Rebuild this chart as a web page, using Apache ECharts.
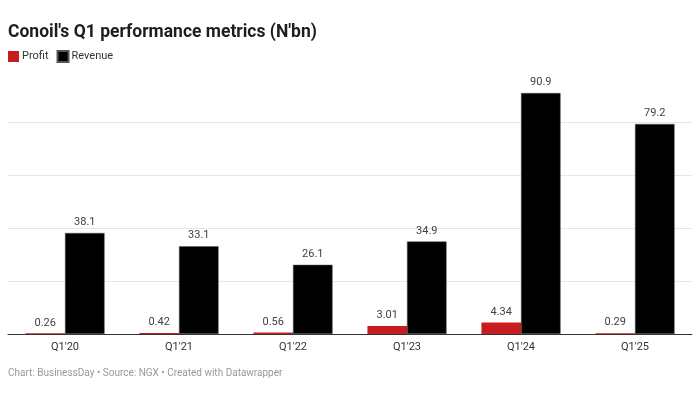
<!DOCTYPE html>
<html><head><meta charset="utf-8">
<script src="https://cdn.jsdelivr.net/npm/echarts@6/dist/echarts.min.js"></script>
<style>html,body{margin:0;padding:0;background:#fff}#c{width:700px;height:400px}</style>
</head><body><div id="c"></div>
<script>
const categories = ["Q1'20","Q1'21","Q1'22","Q1'23","Q1'24","Q1'25"];
const profit = [0.26, 0.42, 0.56, 3.01, 4.34, 0.29];
const revenue = [38.1, 33.1, 26.1, 34.9, 90.9, 79.2];
const yTicks = [0, 20, 40, 60, 80];

const chart = echarts.init(document.getElementById('c'), null, {renderer: 'canvas'});
const lbl = {show: true, position: 'top', distance: 5, color: '#404040', fontSize: 11, fontFamily: 'Roboto',
  formatter: p => String(p.value)};
chart.setOption({
  animation: false,
  textStyle: {fontFamily: 'Roboto'},
  title: {
    text: "Conoil's Q1 performance metrics (N'bn)",
    left: 8, top: 24, padding: 0,
    textStyle: {fontSize: 17.5, fontWeight: 'bold', color: '#1d1d1d', fontFamily: 'Roboto'}
  },
  legend: {
    left: 8, top: 50, padding: 0, itemWidth: 11, itemHeight: 11, itemGap: 8,
    icon: 'rect',
    textStyle: {fontSize: 11, color: '#333', fontFamily: 'Roboto', padding: [0, 0, 0, -2]},
    data: ['Profit', 'Revenue']
  },
  graphic: [{
    type: 'text', left: 8, top: 368,
    style: {text: 'Chart: BusinessDay • Source: NGX • Created with Datawrapper', fill: '#999', fontSize: 10, fontFamily: 'Roboto'}
  }],
  grid: {left: 8, right: 8, top: 93, bottom: 66, containLabel: false},
  xAxis: {
    type: 'category', data: categories,
    axisLine: {show: true, lineStyle: {color: '#333', width: 1}},
    axisTick: {show: false},
    axisLabel: {color: '#333', fontSize: 11, margin: 8, fontFamily: 'Roboto'}
  },
  yAxis: {
    type: 'value', min: yTicks[0], max: Math.max(...revenue), interval: 20,
    axisLabel: {show: false}, axisLine: {show: false}, axisTick: {show: false},
    splitLine: {show: true, showMaxLine: false, lineStyle: {color: '#e6e6e6', width: 1}}
  },
  series: [
    {name: 'Profit', type: 'bar', data: profit, barWidth: '34.7%', barGap: '0%',
     itemStyle: {color: '#c71e1d'}, label: lbl},
    {name: 'Revenue', type: 'bar', data: revenue, barWidth: '34.7%', barGap: '0%',
     itemStyle: {color: '#000', borderColor: '#555', borderWidth: 0.5}, label: lbl}
  ]
});
</script></body></html>
